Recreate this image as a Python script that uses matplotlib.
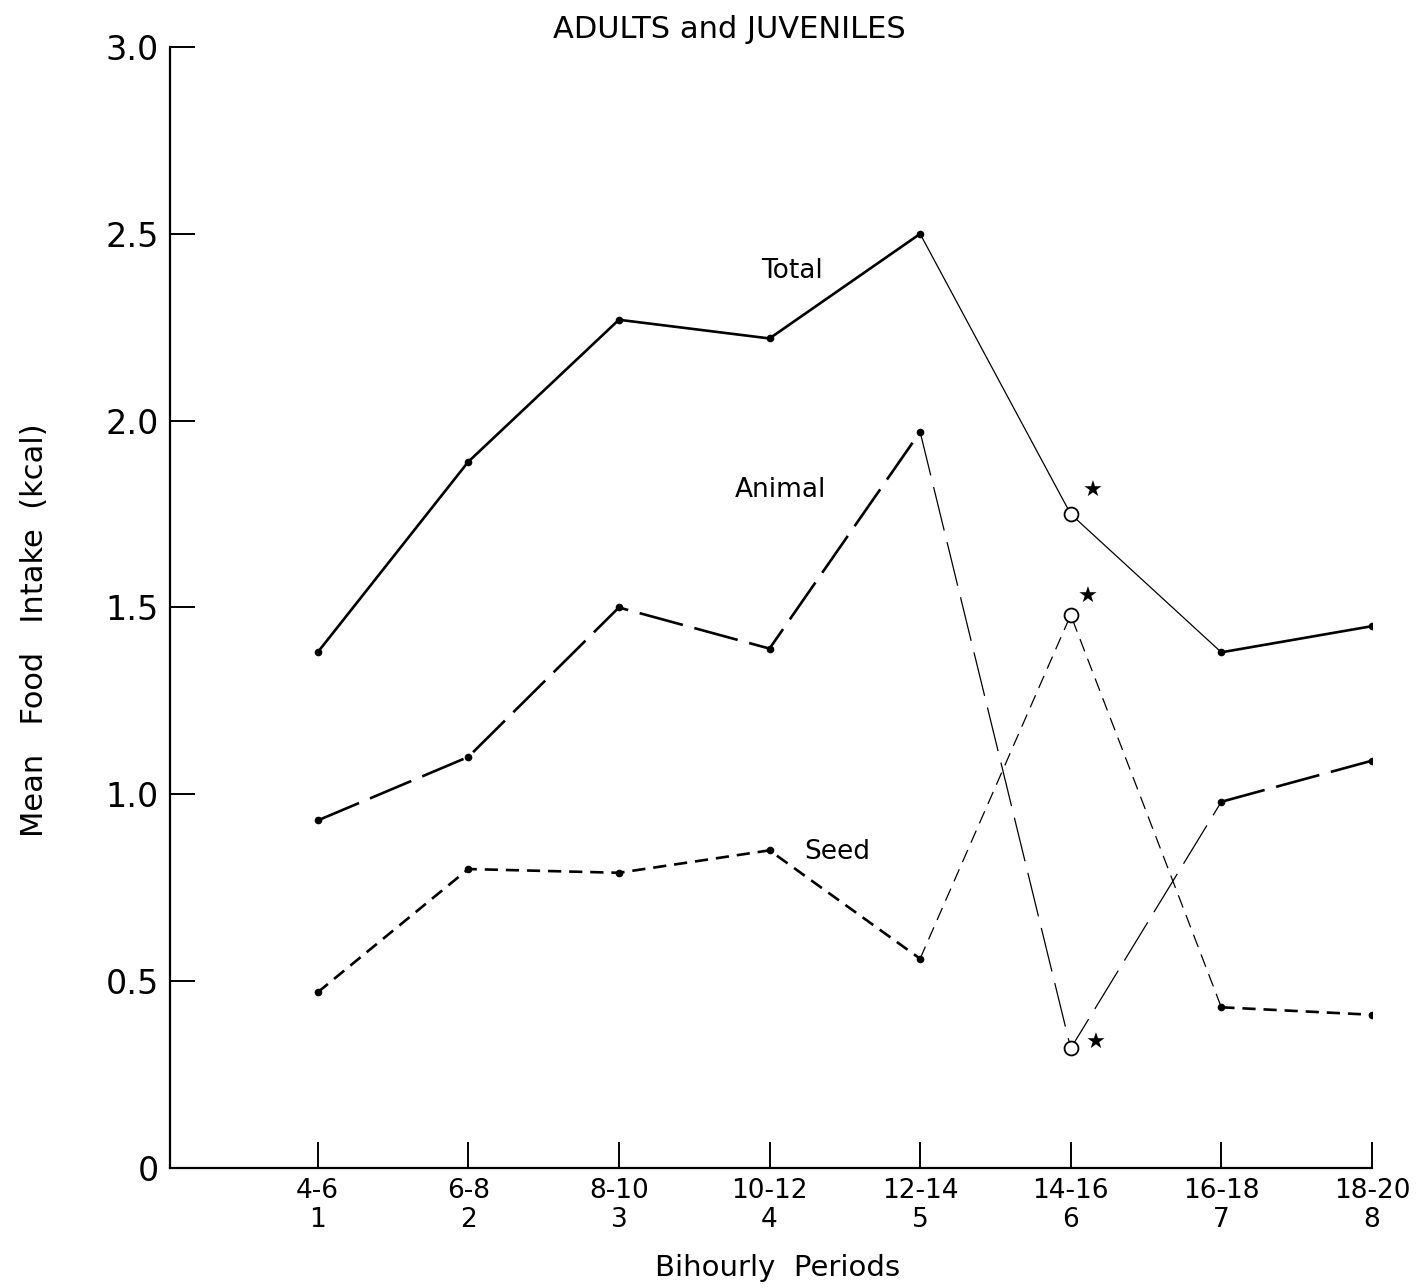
import numpy as np
from matplotlib import pyplot as plt
import matplotlib

matplotlib.rcParams['font.family'] = ['DejaVu Sans']

periods = np.arange(1, 9)
hours = ['4-6', '6-8', '8-10', '10-12', '12-14', '14-16', '16-18', '18-20']
total = [1.38, 1.89, 2.27, 2.22, 2.50, 1.75, 1.38, 1.45]
animal = [0.93, 1.10, 1.50, 1.39, 1.97, 0.32, 0.98, 1.09]
seed = [0.47, 0.80, 0.79, 0.85, 0.56, 1.48, 0.43, 0.41]
y_ticks = [0, 0.5, 1.0, 1.5, 2.0, 2.5, 3.0]
y_labels = ['0', '0.5', '1.0', '1.5', '2.0', '2.5', '3.0']

fig = plt.figure(figsize=(14.22, 12.88), dpi=100)
ax = fig.add_axes([0.1196, 0.0932, 0.8452, 0.8703])

LW, LW_THIN = 1.9, 0.9

# (series, label, dash pattern, label pos, star offset in points)
series = [
    (total, 'Total', None, (4.15, 2.40), (16, 17)),
    (animal, 'Animal', (17, 4.5), (4.07, 1.815), (18, 4)),
    (seed, 'Seed', (5, 3), (4.45, 0.846), (12, 13)),
]

for vals, name, dash, lpos, star in series:
    v = np.array(vals)
    if dash is None:
        thick, thin = '-', '-'
    else:
        k = LW / LW_THIN
        thick = (0, dash)
        thin = (0, (dash[0] * k, dash[1] * k))
    # thick parts
    ax.plot(periods[:5], v[:5], color='black', lw=LW, linestyle=thick)
    ax.plot(periods[6:], v[6:], color='black', lw=LW, linestyle=thick)
    # thin parts through period 6
    ax.plot(periods[4:7], v[4:7], color='black', lw=LW_THIN, linestyle=thin)
    # points
    idx = [0, 1, 2, 3, 4, 6, 7]
    ax.plot(periods[idx], v[idx], 'o', color='black', ms=4.5)
    ax.plot(periods[5], v[5], 'o', mfc='white', mec='black', ms=10, mew=1.3)
    ax.annotate('★', xy=(periods[5], v[5]), xytext=star, textcoords='offset points',
                ha='center', va='center', fontsize=16)
    ax.text(lpos[0], lpos[1], name, fontsize=19, ha='center', va='center')

ax.set_xlim(0.02, 8.0)
ax.set_ylim(0, 3.0)
ax.spines['top'].set_visible(False)
ax.spines['right'].set_visible(False)
ax.spines['left'].set_linewidth(1.6)
ax.spines['bottom'].set_linewidth(1.6)

ax.set_xticks(periods)
ax.set_xticklabels([h + '\n' + str(p) for h, p in zip(hours, periods)], fontsize=19,
                   linespacing=1.15)
ax.set_yticks(y_ticks)
ax.set_yticklabels(y_labels, fontsize=24)
ax.tick_params(axis='x', direction='in', length=19, width=1.4, pad=7)
ax.tick_params(axis='y', direction='in', length=18, width=1.4, pad=8)

fig.text(0.513, 0.977, 'ADULTS and JUVENILES', fontsize=22, ha='center', va='center')
fig.text(0.547, 0.0155, 'Bihourly  Periods', fontsize=21, ha='center', va='center')
fig.text(0.0246, 0.511, 'Mean   Food   Intake  (kcal)', fontsize=22, ha='center',
         va='center', rotation=90)

plt.savefig('out.png', dpi=100)
